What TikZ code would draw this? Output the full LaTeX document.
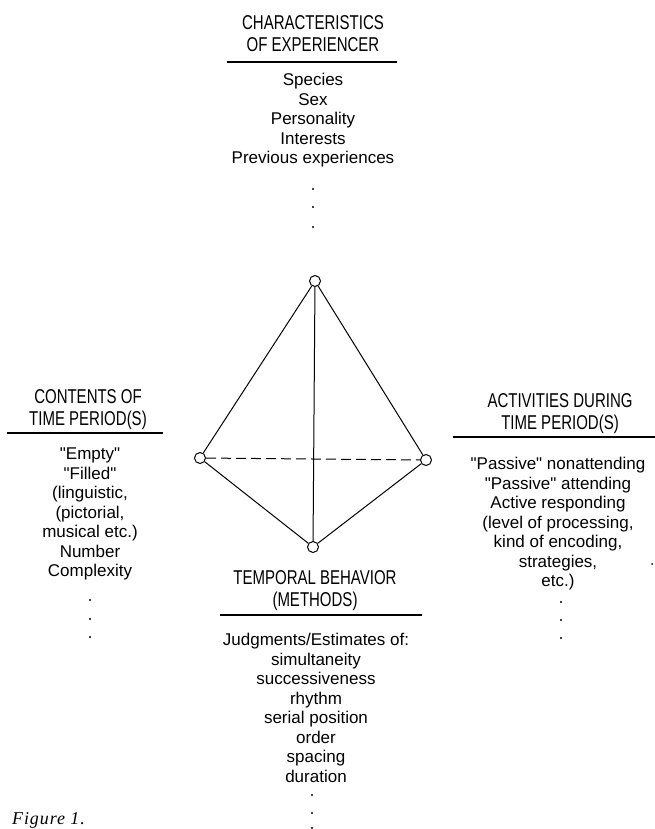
\documentclass[tikz,border=0pt]{standalone}
\usepackage{fontspec}
\setmainfont{Liberation Sans}
\newfontfamily\headfont[FakeStretch=0.75]{Liberation Sans}
\newfontfamily\figfont[LetterSpace=5]{Liberation Serif}
\usepackage{tikz}

\begin{document}
\begin{tikzpicture}[x=1pt,y=-1pt,
  head/.style={font=\headfont\fontsize{20}{22}\selectfont, align=center, inner sep=0pt, anchor=north},
  items/.style={font=\fontsize{17}{19.5}\selectfont, align=center, inner sep=0pt, anchor=north},
  vertex/.style={circle, draw, fill=white, minimum size=11pt, inner sep=0pt, line width=1pt},
  edge/.style={line width=1pt},
  rule/.style={line width=1.2pt}]
\useasboundingbox (0,0) rectangle (655,829);
% tetrahedron
\node [vertex] (top) at (315,281) {};
\node [vertex] (left) at (200,458) {};
\node [vertex] (right) at (426,460) {};
\node [vertex] (bottom) at (313,547) {};
\draw [edge, dash pattern=on 10pt off 5pt] (left) -- (right);
\draw [edge] (top) -- (left);
\draw [edge] (top) -- (right);
\draw [edge] (top) -- (bottom);
\draw [edge] (left) -- (bottom);
\draw [edge] (right) -- (bottom);
% experiencer
\node [head] (exphead) at (313,15) {CHARACTERISTICS\\OF EXPERIENCER};
\draw [rule] (227,62) -- (397,62);
\node [items] (explist) at (313,73) {Species\\Sex\\Personality\\Interests\\Previous experiences};
\foreach \y in {189,207,227} \fill (313,\y) circle (1.2);
% contents
\node [head] (conthead) at (88,389) {CONTENTS OF\\TIME PERIOD(S)};
\draw [rule] (7,433) -- (163,433);
\node [items] (contlist) at (90,448) {\textquotedbl Empty\textquotedbl\\\textquotedbl Filled\textquotedbl\\(linguistic,\\(pictorial,\\musical etc.)\\Number\\Complexity};
\foreach \y in {600,619,637} \fill (90,\y) circle (1.2);
% activities
\node [head] (acthead) at (560,393) {ACTIVITIES DURING\\TIME PERIOD(S)};
\draw [rule] (453,437) -- (655,437);
\node [items] (actlist) at (558,457) {\textquotedbl Passive\textquotedbl{} nonattending\\\textquotedbl Passive\textquotedbl{} attending\\Active responding\\(level of processing,\\kind of encoding,\\strategies,\\etc.)};
\foreach \y in {602,620,638} \fill (561,\y) circle (1.2);
\fill (652,564) circle (1);
% temporal behavior
\node [head] (temphead) at (315,570) {TEMPORAL BEHAVIOR\\(METHODS)};
\draw [rule] (220,615) -- (422,615);
\node [items] (templist) at (316,633) {Judgments/Estimates of:\\simultaneity\\successiveness\\rhythm\\serial position\\order\\spacing\\duration};
\foreach \y in {795,813,828} \fill (312,\y) circle (1.2);
% caption
\node [font=\figfont\itshape\fontsize{18}{20}\selectfont, anchor=base west, inner sep=0pt] (caption) at (12,824) {Figure 1.};
\end{tikzpicture}
\end{document}
